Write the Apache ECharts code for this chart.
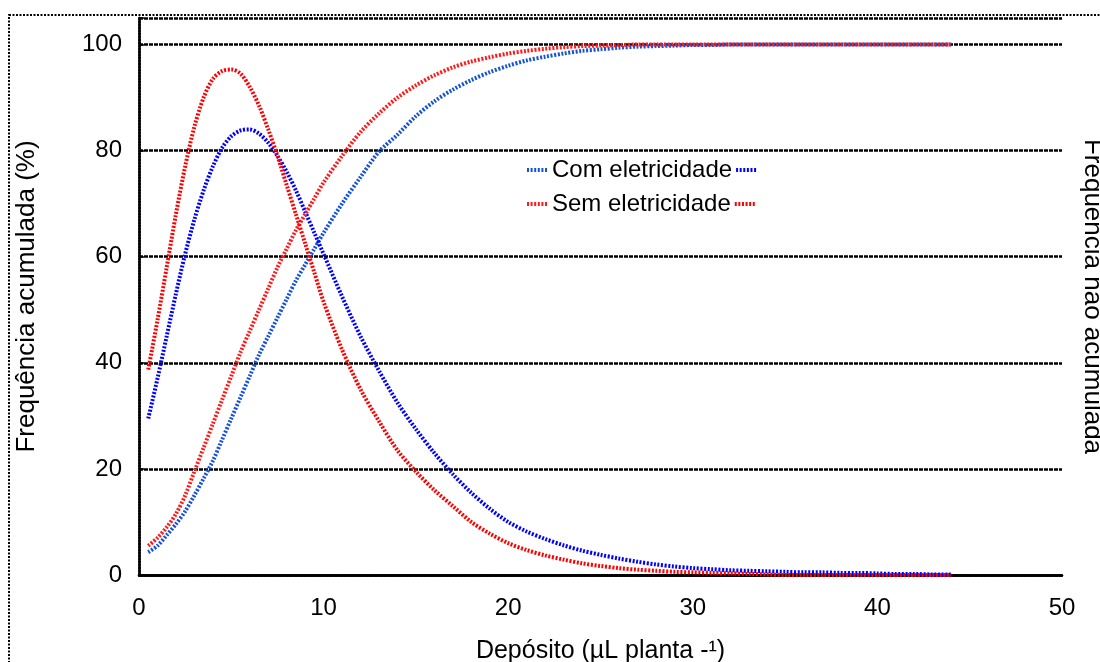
<!DOCTYPE html>
<html>
<head>
<meta charset="utf-8">
<script src="https://cdn.jsdelivr.net/npm/echarts@6/dist/echarts.min.js"></script>
<style>html,body{margin:0;padding:0;background:#fff;}#c{width:1100px;height:662px;}</style>
</head>
<body>
<div id="c"></div>
<script>
// Depósito (µL planta -1)
const deposito = [0.5,1,1.5,2,2.5,3,3.5,4,4.5,5,5.5,6,6.5,7,7.5,8,8.5,9,9.5,10,
  11,12,13,14,15,16,17,18,19,20,21,22,23,24,25,26,27,28,29,30,31,32,33,34,35,36,37,38,39,40,41,42,43,44];
// Frequência acumulada (%)
const comAcumulada = [4.3,5.5,7.5,9.6,12,15,18.2,21.5,25.5,29.5,33.5,37.5,41.5,45,48.5,52,55.5,58.5,61.5,64.5,
  70,75,79.8,83,86.5,89.3,91.5,93.3,94.8,96,97,97.7,98.3,98.8,99.1,99.4,99.6,99.7,99.8,99.9,99.9,100,100,100,100,100,100,100,100,100,100,100,100,100];
const semAcumulada = [5.5,7,9,11.5,15,19.5,24,28.5,33,37.5,42,46,50,54,58,61.5,65,68,71,74,
  79,83.5,87,90,92.3,94.2,95.7,96.8,97.6,98.3,98.8,99.2,99.5,99.7,99.8,99.9,100,100,100,100,100,100,100,100,100,100,100,100,100,100,100,100,100,100];
// Frequência não acumulada
const comNaoAcumulada = [29.5,37,45,53,60.5,67,72.5,77,80.5,82.7,83.8,84,83.2,81.5,79,76,72.5,68.5,64.5,60.5,
  52.5,45,38.5,32.5,27.5,23,19,15.5,12.5,10,8.2,6.8,5.6,4.6,3.8,3.1,2.5,2,1.6,1.3,1.1,0.9,0.8,0.7,0.6,0.5,0.5,0.4,0.4,0.3,0.2,0.2,0.1,0.1];
const semNaoAcumulada = [38.7,48,58,68,77,84.5,90,93.5,95,95.3,94.5,92,88.5,84,79,73.5,68,62.5,57,51.5,
  42.5,35,29,23.5,19.5,16,13,10,7.8,6,4.7,3.7,2.9,2.2,1.7,1.3,1,0.8,0.6,0.5,0.4,0.3,0.2,0.1,0,0,0,0,0,0,0,0,0,0];
const xTicks = [0,10,20,30,40,50];
const yTicks = [0,20,40,60,80,100];

const pairs = (ys) => deposito.map((x, i) => [x, ys[i]]);
const FONT = "'Liberation Sans', Arial, sans-serif";
const FS = 24;
const dot = [2, 1.6];
const frame = { show: true, lineStyle: { color: '#000', width: 2.5, type: [2, 1] } };

const chart = echarts.init(document.getElementById('c'), null, { renderer: 'canvas' });
const lineSeries = (name, data, color, yIdx, z) => ({
  name, type: 'line', data: pairs(data), yAxisIndex: yIdx, symbol: 'none', smooth: 0.3, z,
  lineStyle: { color, width: 4, type: dot }, itemStyle: { color }
});
const legendCommon = {
  left: 525, itemWidth: 20, itemHeight: 14, itemGap: 2, padding: 0, selectedMode: false,
  itemStyle: { opacity: 0 },
  lineStyle: { width: 4 },
  textStyle: { fontFamily: FONT, fontSize: FS, color: '#000' },
  formatter: (n) => n.indexOf('não') >= 0 ? '' : n
};
chart.setOption({
  animation: false,
  backgroundColor: '#fff',
  textStyle: { fontFamily: FONT },
  graphic: [{
    type: 'rect', silent: true, z: -10,
    shape: { x: 9, y: 15, width: 1300, height: 900 },
    style: { fill: 'none', stroke: '#000', lineWidth: 2, lineDash: [2, 1.5] }
  }],
  grid: { left: 139, right: 38, top: 18, bottom: 87, outerBoundsMode: 'none', containLabel: false },
  legend: [
    Object.assign({ top: 158, data: ['Com eletricidade', 'Com eletricidade não acumulada'] }, legendCommon),
    Object.assign({ top: 192, data: ['Sem eletricidade', 'Sem eletricidade não acumulada'] }, legendCommon)
  ],
  xAxis: [{
    type: 'value', min: xTicks[0], max: xTicks[xTicks.length - 1], interval: 10,
    name: 'Depósito (µL planta -¹)', nameLocation: 'middle', nameGap: 64,
    nameTextStyle: { fontFamily: FONT, fontSize: 25, color: '#000' },
    axisLine: frame, axisTick: { show: false },
    axisLabel: { fontFamily: FONT, fontSize: FS, color: '#000', margin: 21 },
    splitLine: { show: false }
  }, {
    type: 'value', position: 'top', min: 0, max: 50, interval: 10,
    axisLine: frame, axisTick: { show: false }, axisLabel: { show: false }, splitLine: { show: false }
  }],
  yAxis: [{
    type: 'value', min: yTicks[0], max: 105, interval: 20,
    name: 'Frequência acumulada (%)', nameLocation: 'middle', nameGap: 99,
    nameTextStyle: { fontFamily: FONT, fontSize: 26, color: '#000' },
    axisLine: frame, axisTick: { show: false },
    axisLabel: { fontFamily: FONT, fontSize: FS, color: '#000', margin: 17,
      formatter: (v) => yTicks.indexOf(v) >= 0 ? String(v) : '' },
    splitLine: { show: true, lineStyle: { color: '#000', width: 2.5, type: [4, 1] } }
  }, {
    type: 'value', position: 'right', min: 0, max: 105, interval: 20,
    name: 'Frequência não acumulada', nameLocation: 'middle', nameGap: 17, nameRotate: -90,
    nameTextStyle: { fontFamily: FONT, fontSize: 26, color: '#000' },
    axisLine: frame, axisTick: { show: true, inside: false, length: 5, lineStyle: { color: '#000', width: 1.5 } },
    axisLabel: { show: false }, splitLine: { show: false }
  }],
  series: [
    lineSeries('Com eletricidade', comAcumulada, '#1652d6', 0, 3),
    lineSeries('Com eletricidade não acumulada', comNaoAcumulada, '#0000ff', 1, 3),
    lineSeries('Sem eletricidade', semAcumulada, '#ff1a1a', 0, 4),
    lineSeries('Sem eletricidade não acumulada', semNaoAcumulada, '#ff0000', 1, 4)
  ]
});
</script>
</body>
</html>
